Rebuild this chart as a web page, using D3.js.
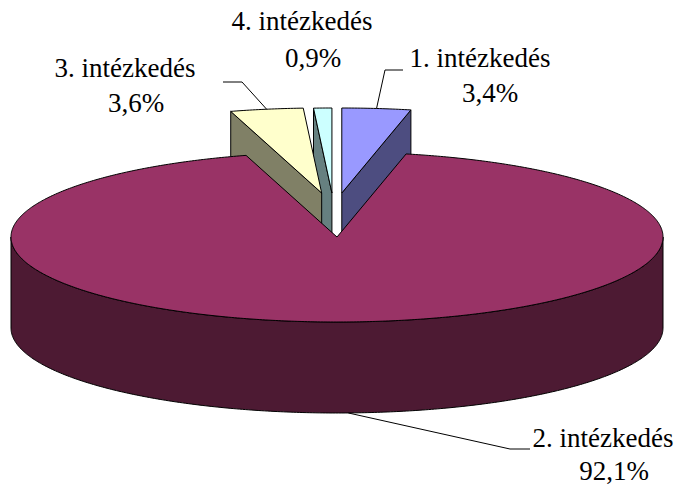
<!DOCTYPE html>
<html>
<head>
<meta charset="utf-8">
<script src="https://cdn.jsdelivr.net/npm/d3@7/dist/d3.min.js"></script>
<style>
  body { margin: 0; background: #fff; }
  #wrap { position: relative; width: 678px; height: 486px; overflow: hidden; }
  svg { display: block; position: absolute; left: 0; top: 0; }
</style>
</head>
<body>
<div id="wrap">
<svg id="chart" width="678" height="486"></svg>
</div>
<script>
// data
var names = ["1. intézkedés", "2. intézkedés", "3. intézkedés", "4. intézkedés"];
var values = [3.4, 92.1, 3.6, 0.9];
var pctLabels = ["3,4%", "92,1%", "3,6%", "0,9%"];
var topColors = ["#9999FF", "#993366", "#FFFFCC", "#CCFFFF"];
var exploded = [true, false, true, true];

//Dimension-related vars
var cx = 337, cy = 237;
var rx = 326, ry = 85;
var depth = 91;

var svg = d3.select('#chart');
svg.append('rect').attr('width', 678).attr('height', 486).attr('fill', '#fff');

var pie = d3.pie().sort(null).startAngle(0).endAngle(2 * Math.PI);
var arcs = pie(values).map(function(d, i) {
  var mid = (d.startAngle + d.endAngle) / 2;
  var off = exploded[i] ? [-3 + 73 * Math.sin(mid), -44] : [0, 0];
  return { i: i, s: d.startAngle, e: d.endAngle, mid: mid, off: off };
});

function pt(a, dz, off) {
  return [cx + off[0] + rx * Math.sin(a), cy + off[1] - ry * Math.cos(a) + dz];
}

function side(c) {
  var r = d3.rgb(c);
  return d3.rgb(Math.round(r.r / 2), Math.round(r.g / 2), Math.round(r.b / 2)).formatHex();
}

var lineGen = d3.line();

function arcPoints(a0, a1, dz, off) {
  var n = Math.max(2, Math.ceil(Math.abs(a1 - a0) / 0.01));
  return d3.range(n + 1).map(function(k) {
    return pt(a0 + (a1 - a0) * k / n, dz, off);
  });
}

function topPath(d) {
  var apex = [cx + d.off[0], cy + d.off[1]];
  return lineGen([apex].concat(arcPoints(d.s, d.e, 0, d.off))) + 'Z';
}

function radialPath(d, a) {
  var apex = [cx + d.off[0], cy + d.off[1]];
  var p = pt(a, 0, d.off);
  return lineGen([apex, p, [p[0], p[1] + depth], [apex[0], apex[1] + depth]]) + 'Z';
}

function wallPath(d) {
  var a0 = Math.max(d.s, Math.PI / 2), a1 = Math.min(d.e, 3 * Math.PI / 2);
  if (a1 <= a0) return null;
  var topPts = arcPoints(a0, a1, 0, d.off);
  var botPts = arcPoints(a1, a0, depth, d.off);
  return lineGen(topPts.concat(botPts)) + 'Z';
}

// back slices first
var order = arcs.slice().sort(function(a, b) { return Math.cos(b.mid) - Math.cos(a.mid); });

var g = svg.append('g')
  .attr('stroke', '#000')
  .attr('stroke-width', 1)
  .attr('stroke-linejoin', 'round');

order.forEach(function(d) {
  var c = topColors[d.i];
  var w = wallPath(d);
  if (w) g.append('path').attr('d', w).attr('fill', side(c));
  if (Math.sin(d.s) < -1e-6) g.append('path').attr('d', radialPath(d, d.s)).attr('fill', side(c));
  if (Math.sin(d.e) > 1e-6) g.append('path').attr('d', radialPath(d, d.e)).attr('fill', side(c));
  g.append('path').attr('d', topPath(d)).attr('fill', c);
});

//Labels (x = centre, y = baseline)
var labelPos = [
  { x1: 480, y1: 68, x2: 490, y2: 103, lead: [[385, 70], [403, 70]], anchorDz: 0 },
  { x1: 603, y1: 448, x2: 614, y2: 481, lead: [[510, 449], [530, 449]], anchorDz: depth },
  { x1: 125, y1: 78, x2: 136, y2: 113, lead: [[242, 82], [223, 82]], anchorDz: 0 },
  { x1: 302, y1: 31, x2: 313, y2: 68, lead: null }
];
var baseShift = 23; // baseline offset inside a 27px line box

var wrap = d3.select('#wrap');

function addLabel(x, y, txt) {
  var div = document.createElement('div');
  div.style.position = 'absolute';
  div.style.fontFamily = '"Liberation Serif"';
  div.style.fontSize = '27px';
  div.style.lineHeight = '27px';
  div.style.whiteSpace = 'nowrap';
  div.style.color = '#000';
  div.style.left = x + 'px';
  div.style.top = (y - baseShift) + 'px';
  div.style.transform = 'translateX(-50%)';
  div.textContent = txt;
  wrap.node().appendChild(div);
}

arcs.forEach(function(d) {
  var lp = labelPos[d.i];
  if (lp.lead) {
    var a = pt(d.mid, lp.anchorDz, d.off);
    svg.append('path')
      .attr('d', lineGen([a].concat(lp.lead)))
      .attr('fill', 'none')
      .attr('stroke', '#000')
      .attr('stroke-width', 1);
  }
  addLabel(lp.x1, lp.y1, names[d.i]);
  addLabel(lp.x2, lp.y2, pctLabels[d.i]);
});
</script>
</body>
</html>
